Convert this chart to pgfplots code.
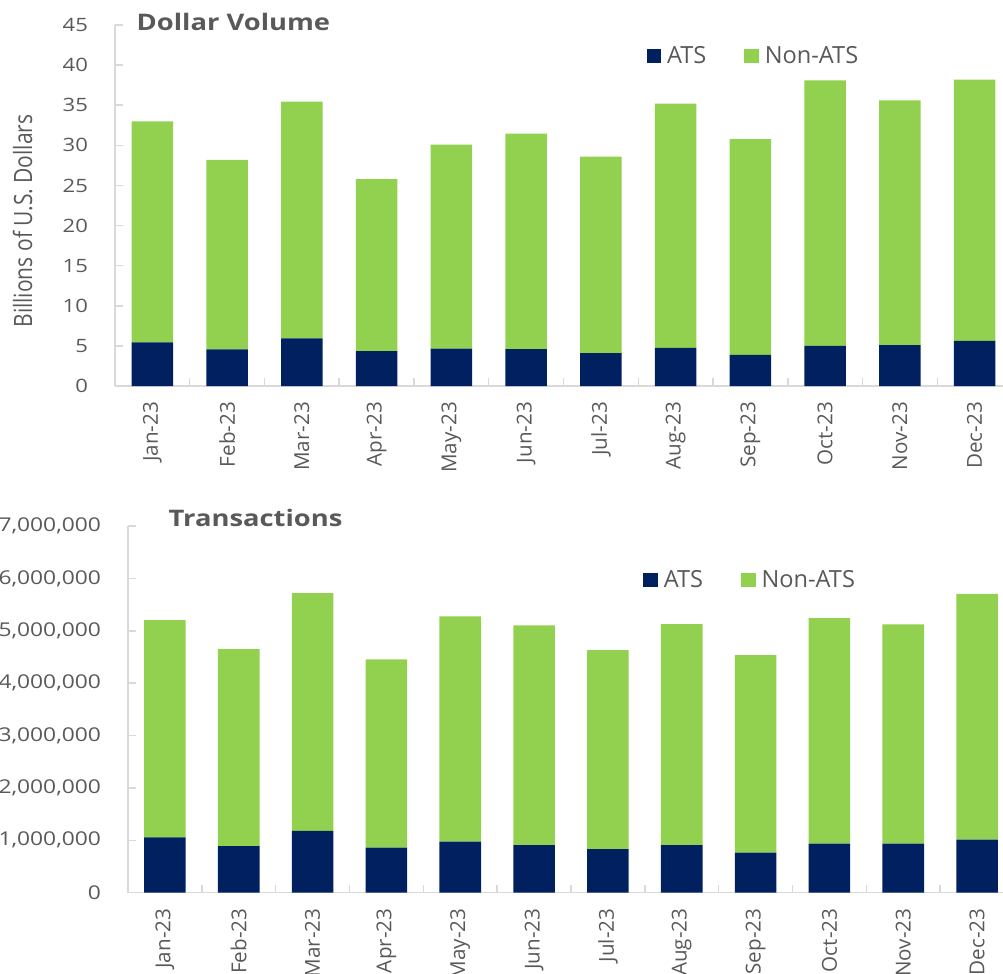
\documentclass[border=0pt]{standalone}
\usepackage{fontspec}
\setmainfont{Open Sans}
\newfontfamily\wide{Open Sans}[FakeStretch=1.2]
\usepackage{graphicx}
\usepackage{pgfplots}
\usepackage{pgfplotstable}
\pgfplotsset{compat=1.18}

\definecolor{ats}{HTML}{002060}
\definecolor{nonats}{HTML}{92D050}
\definecolor{axisgray}{HTML}{D9D9D9}
\definecolor{txt}{HTML}{595959}

% dollar volume, billions
\pgfplotstableread{
m ats non
0 5.45 27.55
1 4.57 23.63
2 5.94 29.51
3 4.36 21.44
4 4.65 25.45
5 4.61 26.85
6 4.11 24.49
7 4.74 30.46
8 3.87 26.89
9 4.99 33.11
10 5.11 30.49
11 5.61 32.59
}\dollar

% transactions
\pgfplotstableread{
m ats non
0 1057000 4149000
1 891000 3761000
2 1180000 4540000
3 860000 3596000
4 974000 4303000
5 910000 4195000
6 834000 3799000
7 910000 4220000
8 764000 3774000
9 935000 4310000
10 935000 4189000
11 1012000 4696000
}\trans

\pgfplotsset{
  monthbars/.style={
    scale only axis,
    ybar stacked, bar width=20.8pt, bar shift=0pt,
    xmin=-0.5, xmax=11.5, ymin=0,
    axis x line*=bottom, axis y line*=left,
    axis line style={draw=axisgray, line width=0.75pt},
    tick style={draw=axisgray, line width=0.75pt},
    tick align=inside, major tick length=4pt,
    xtick={-0.5,0.5,...,11.5}, xticklabels={},
    extra x ticks={0,...,11},
    extra x tick labels={Jan-23,Feb-23,Mar-23,Apr-23,May-23,Jun-23,Jul-23,Aug-23,Sep-23,Oct-23,Nov-23,Dec-23},
    extra x tick style={major tick length=0pt},
    xticklabel style={yshift=-4.5pt, rotate=90, anchor=east,
      font=\fontsize{10.3}{12}\selectfont, text=txt},
    yticklabel style={xshift=-10pt, text=txt},
    /pgf/number format/assume math mode=true,
    /pgf/number format/fixed,
    /pgf/number format/1000 sep={,},
    scaled y ticks=false,
    legend columns=-1,
    legend style={draw=none, fill=none, anchor=west, inner sep=0pt,
      nodes={inner sep=0pt},
      font=\fontsize{11.8}{13}\selectfont, text=txt,
      /tikz/every odd column/.append style={column sep=3pt},
      /tikz/every even column/.append style={column sep=19pt}},
    legend image code/.code={\fill[##1] (0pt,-3.6pt) rectangle (7.2pt,3.6pt);},
    title style={anchor=center, font=\wide\bfseries\fontsize{11.4}{13}\selectfont, text=txt},
  }
}

\begin{document}
\begin{tikzpicture}
\begin{axis}[monthbars,
  at={(57.5pt,-193pt)}, anchor=south west,
  width=448.5pt, height=180.5pt,
  ymax=45, ytick={0,5,...,45},
  yticklabel style={font=\wide\fontsize{9.2}{11}\selectfont},
  title={Dollar Volume},
  title style={at={(axis description cs:0.132,0.975)}},
  ylabel={\scalebox{1}[1.2]{Billions of U.S. Dollars}},
  ylabel style={at={(axis description cs:-0.103,0.457)}, anchor=center,
    font=\fontsize{10.5}{12}\selectfont, text=txt},
  legend style={at={(axis description cs:0.5923,0.914)}},
]
\addplot[fill=ats, draw=none] table[x=m, y=ats] {\dollar};
\addplot[fill=nonats, draw=none] table[x=m, y=non] {\dollar};
\legend{ATS, Non-ATS}
\end{axis}

\begin{axis}[monthbars,
  at={(64pt,-446.35pt)}, anchor=south west,
  width=443pt, height=183.3pt,
  ymax=7000000, ytick={0,1000000,...,7000000},
  yticklabel style={font=\wide\fontsize{9.5}{11}\selectfont},
  title={Transactions},
  title style={at={(axis description cs:0.144,0.989)}},
  legend style={at={(axis description cs:0.5813,0.853)}},
]
\addplot[fill=ats, draw=none] table[x=m, y=ats] {\trans};
\addplot[fill=nonats, draw=none] table[x=m, y=non] {\trans};
\legend{ATS, Non-ATS}
\end{axis}

\pgfresetboundingbox
\path[use as bounding box] (0pt,0pt) rectangle (501.5pt,-487pt);
\end{tikzpicture}
\end{document}
